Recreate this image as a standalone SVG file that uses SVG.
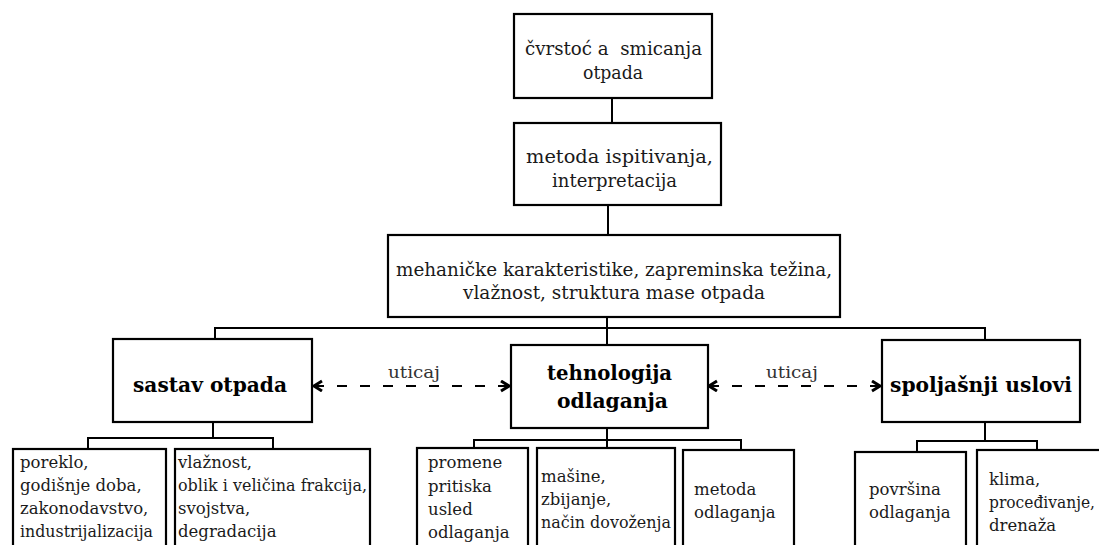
<svg xmlns="http://www.w3.org/2000/svg" width="1099" height="545" viewBox="0 0 1099 545">
<style>
.box{fill:#fff;stroke:#000;stroke-width:2.2}
.ln{fill:none;stroke:#000;stroke-width:2}
.dash{fill:none;stroke:#000;stroke-width:2.2;stroke-dasharray:10 13}
text{fill:#1a1a1a;font-family:"DejaVu Serif","Liberation Serif",serif}
.t20{font-size:18.3px}
.b{font-size:21px;font-weight:bold;fill:#000}
.s{font-size:16.5px}
.lbl{font-size:17px;fill:#333}
</style>
<defs>
<marker id="ah" markerUnits="userSpaceOnUse" markerWidth="14" markerHeight="14" refX="10" refY="6" orient="auto-start-reverse" viewBox="0 0 14 14">
<path d="M2,1 L10,6 L2,11" fill="none" stroke="#000" stroke-width="3"/>
</marker>
</defs>
<g id="connectors">
<line class="ln" x1="612" y1="98" x2="612" y2="123"/>
<line class="ln" x1="608" y1="205" x2="608" y2="235"/>
<line class="ln" x1="607" y1="317" x2="607" y2="345"/>
<polyline class="ln" points="215,339 215,328 985,328 985,340"/>
<polyline class="ln" points="213,422 213,438"/>
<polyline class="ln" points="88,449 88,438 273,438 273,449"/>
<line class="ln" x1="607" y1="428" x2="607" y2="448"/>
<polyline class="ln" points="474,448 474,440 741,440 741,450"/>
<line class="ln" x1="985" y1="422" x2="985" y2="441"/>
<polyline class="ln" points="917,452 917,441 1037,441 1037,450"/>
<line class="dash" x1="314" y1="386" x2="509" y2="386" marker-start="url(#ah)" marker-end="url(#ah)"/>
<line class="dash" x1="709" y1="386" x2="880" y2="386" marker-start="url(#ah)" marker-end="url(#ah)"/>
<text class="lbl" x="388" y="378" textLength="52" lengthAdjust="spacingAndGlyphs">uticaj</text>
<text class="lbl" x="766" y="378" textLength="52" lengthAdjust="spacingAndGlyphs">uticaj</text>
</g>
<g id="n1"><rect class="box" x="514" y="14" width="198" height="84"/>
<text class="t20" x="525" y="55" textLength="177" lengthAdjust="spacingAndGlyphs" xml:space="preserve">čvrstoć a  smicanja</text>
<text class="t20" x="583" y="79" textLength="60" lengthAdjust="spacingAndGlyphs">otpada</text></g>
<g id="n2"><rect class="box" x="514" y="123" width="207" height="82"/>
<text class="t20" x="526" y="163" textLength="187" lengthAdjust="spacingAndGlyphs">metoda ispitivanja,</text>
<text class="t20" x="552" y="187" textLength="125" lengthAdjust="spacingAndGlyphs">interpretacija</text></g>
<g id="n3"><rect class="box" x="388" y="235" width="452" height="82"/>
<text class="t20" x="396" y="276" textLength="436" lengthAdjust="spacingAndGlyphs">mehaničke karakteristike, zapreminska težina,</text>
<text class="t20" x="463" y="299" textLength="302" lengthAdjust="spacingAndGlyphs">vlažnost, struktura mase otpada</text></g>
<g id="sastav"><rect class="box" x="113" y="339" width="199" height="83"/>
<text class="b" x="133" y="392" textLength="154" lengthAdjust="spacingAndGlyphs">sastav otpada</text></g>
<g id="tehnologija"><rect class="box" x="511" y="345" width="197" height="83"/>
<text class="b" x="547" y="380" textLength="125" lengthAdjust="spacingAndGlyphs">tehnologija</text>
<text class="b" x="557" y="408" textLength="111" lengthAdjust="spacingAndGlyphs">odlaganja</text></g>
<g id="spoljasnji"><rect class="box" x="882" y="340" width="198" height="82"/>
<text class="b" x="890" y="392" textLength="182" lengthAdjust="spacingAndGlyphs">spoljašnji uslovi</text></g>
<g id="a"><rect class="box" x="13" y="449" width="153" height="110"/>
<text class="s" x="20" y="468">poreklo,</text>
<text class="s" x="20" y="491">godišnje doba,</text>
<text class="s" x="20" y="514">zakonodavstvo,</text>
<text class="s" x="20" y="537" textLength="133" lengthAdjust="spacingAndGlyphs">industrijalizacija</text></g>
<g id="b"><rect class="box" x="175" y="449" width="195" height="110"/>
<text class="s" x="178" y="468">vlažnost,</text>
<text class="s" x="178" y="491" textLength="189" lengthAdjust="spacingAndGlyphs">oblik i veličina frakcija,</text>
<text class="s" x="178" y="514">svojstva,</text>
<text class="s" x="178" y="537">degradacija</text></g>
<g id="c"><rect class="box" x="417" y="448" width="111" height="110"/>
<text class="s" x="428" y="468">promene</text>
<text class="s" x="428" y="492">pritiska</text>
<text class="s" x="428" y="515">usled</text>
<text class="s" x="428" y="538">odlaganja</text></g>
<g id="d"><rect class="box" x="537" y="448" width="138" height="110"/>
<text class="s" x="541" y="482">mašine,</text>
<text class="s" x="541" y="505">zbijanje,</text>
<text class="s" x="541" y="528" textLength="130" lengthAdjust="spacingAndGlyphs">način dovoženja</text></g>
<g id="e"><rect class="box" x="683" y="450" width="111" height="110"/>
<text class="s" x="694" y="495">metoda</text>
<text class="s" x="694" y="518">odlaganja</text></g>
<g id="f"><rect class="box" x="855" y="452" width="111" height="110"/>
<text class="s" x="869" y="495">površina</text>
<text class="s" x="869" y="518">odlaganja</text></g>
<g id="g"><rect class="box" x="977" y="450" width="140" height="110"/>
<text class="s" x="989" y="485">klima,</text>
<text class="s" x="989" y="508" textLength="106" lengthAdjust="spacingAndGlyphs">proceđivanje,</text>
<text class="s" x="989" y="531">drenaža</text></g>
</svg>
